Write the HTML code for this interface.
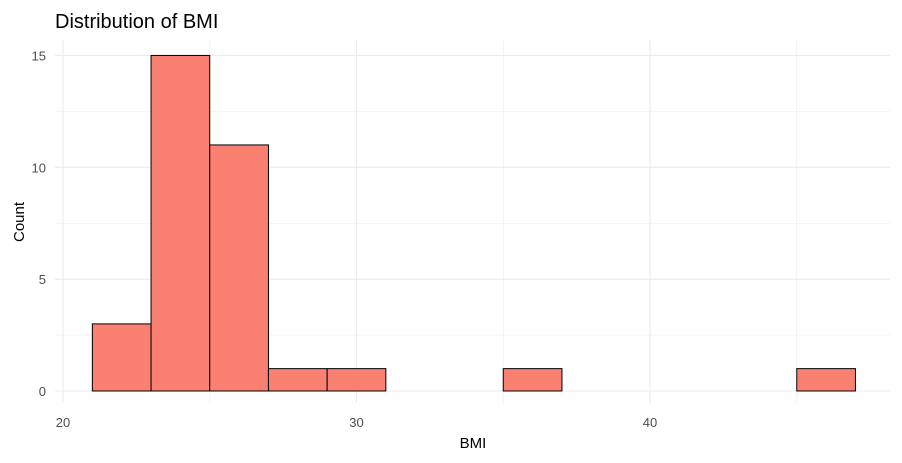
<!DOCTYPE html>
<html><head><meta charset="utf-8"><style>
body{margin:0;background:#fff;font-family:"Liberation Sans",sans-serif;}
svg{display:block}
</style></head><body>
<svg id="chart" width="902" height="463">
<text x="55" y="28" font-size="20" fill="#000">Distribution of BMI</text>
<g id="grid"></g><g id="bars"></g><g id="ticks"></g>
<text x="473" y="448" font-size="15" text-anchor="middle" fill="#000">BMI</text>
<text transform="translate(24,222) rotate(-90)" font-size="15" text-anchor="middle" fill="#000">Count</text>
</svg>
<script>
const binStarts=[21,23,25,27,29,31,33,35,37,39,41,43,45];
const counts=[3,15,11,1,1,0,0,1,0,0,0,0,1];
const binWidth=2;
const xTicks=[20,30,40];
const yTicks=[0,5,10,15];
const NS="http://www.w3.org/2000/svg";
const x=v=>63+(v-20)*29.35;
const y=v=>391-v*22.37;
const L=55,R=890,T=40,B=403;
function mk(t,a,p){const e=document.createElementNS(NS,t);for(const k in a)e.setAttribute(k,a[k]);p.appendChild(e);return e;}
const g=document.getElementById('grid');
for(let v=15;v<=50;v+=5){const xx=x(v);if(xx<L||xx>R)continue;
const l=mk('line',{x1:xx,x2:xx,y1:T,y2:B,stroke:'#ebebeb','stroke-width':v%10===0?1.1:0.55},g);

}
for(let v=0;v<=17.5;v+=2.5){const yy=y(v);if(yy<T)continue;
const l=mk('line',{x1:L,x2:R,y1:yy,y2:yy,stroke:'#ebebeb','stroke-width':v%5===0?1.1:0.55},g);

}
const bg=document.getElementById('bars');
binStarts.forEach((s,i)=>{const c=counts[i];
const r=mk('rect',{x:x(s),y:y(c),width:x(s+binWidth)-x(s),height:y(0)-y(c),fill:'#fa8072',stroke:'#000','stroke-width':1},bg);

});
const tg=document.getElementById('ticks');
xTicks.forEach(v=>{const t=mk('text',{x:x(v),y:427,'font-size':13,fill:'#4d4d4d','text-anchor':'middle'},tg);t.textContent=v;

});
yTicks.forEach(v=>{const t=mk('text',{x:46,y:y(v)+5,'font-size':13,fill:'#4d4d4d','text-anchor':'end'},tg);t.textContent=v;

});
</script>
</body></html>
